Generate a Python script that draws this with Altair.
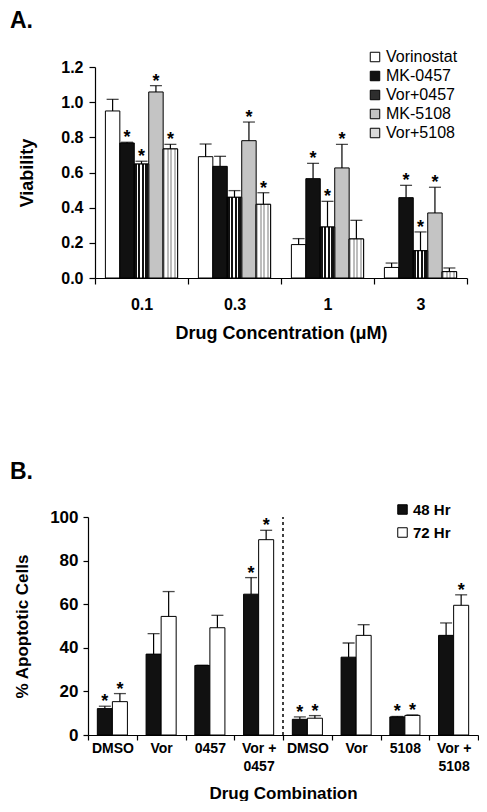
import altair as alt
import pandas as pd

FONT = "Liberation Sans"

# ---------------- Panel A data ----------------
concs = ["0.1", "0.3", "1", "3"]
series_a = ["Vorinostat", "MK-0457", "Vor+0457", "MK-5108", "Vor+5108"]

vorinostat = [0.95, 0.69, 0.19, 0.06]
vorinostat_err = [1.016, 0.762, 0.224, 0.085]
mk0457 = [0.768, 0.635, 0.565, 0.457]
mk0457_err = [0.772, 0.692, 0.652, 0.527]
vor0457 = [0.648, 0.459, 0.29, 0.155]
vor0457_err = [0.664, 0.497, 0.436, 0.262]
mk5108 = [1.058, 0.781, 0.626, 0.37]
mk5108_err = [1.094, 0.887, 0.76, 0.516]
vor5108 = [0.734, 0.419, 0.222, 0.036]
vor5108_err = [0.76, 0.485, 0.328, 0.057]

star_vorinostat = [0, 0, 0, 0]
star_mk0457 = [1, 0, 1, 1]
star_vor0457 = [1, 0, 1, 1]
star_mk5108 = [1, 1, 1, 1]
star_vor5108 = [1, 1, 0, 0]

# ---------------- Panel B data ----------------
combos = ["DMSO", "Vor", "0457", "Vor +|0457", "DMSO ", "Vor ", "5108", "Vor +|5108"]
times = ["48 Hr", "72 Hr"]
hr48 = [12.1, 37.1, 31.9, 64.6, 7.2, 35.7, 8.3, 45.7]
hr48_err = [13.2, 46.5, 32.0, 72.2, 8.3, 42.2, 8.5, 51.4]
hr72 = [15.3, 54.4, 49.2, 89.6, 7.7, 45.7, 9.0, 59.5]
hr72_err = [19.0, 65.8, 54.9, 93.9, 8.9, 50.6, 9.2, 64.3]
star48 = [1, 0, 0, 1, 1, 0, 1, 0]
star72 = [1, 0, 0, 1, 1, 0, 1, 1]

# ---------------- tables ----------------
rows_a = []
for name, vals, errs, stars in [
    ("Vorinostat", vorinostat, vorinostat_err, star_vorinostat),
    ("MK-0457", mk0457, mk0457_err, star_mk0457),
    ("Vor+0457", vor0457, vor0457_err, star_vor0457),
    ("MK-5108", mk5108, mk5108_err, star_mk5108),
    ("Vor+5108", vor5108, vor5108_err, star_vor5108),
]:
    for c, v, e, s in zip(concs, vals, errs, stars):
        rows_a.append({"conc": c, "series": name, "value": v, "err": e, "star": s})
df_a = pd.DataFrame(rows_a)

rows_b = []
for t, vals, errs, stars in [("48 Hr", hr48, hr48_err, star48), ("72 Hr", hr72, hr72_err, star72)]:
    for c, v, e, s in zip(combos, vals, errs, stars):
        rows_b.append({"combo": c, "time": t, "value": v, "err": e, "star": s})
df_b = pd.DataFrame(rows_b)
df_div = pd.DataFrame({"combo": ["DMSO "]})


def hatch(base, stripe, n, frac):
    stops = []
    for i in range(n):
        a = i / n
        b = (i + frac) / n
        c = (i + 1) / n
        stops += [
            {"offset": a, "color": base},
            {"offset": b, "color": base},
            {"offset": b, "color": stripe},
            {"offset": c, "color": stripe},
        ]
    return {"gradient": "linear", "x1": 0, "y1": 0, "x2": 1, "y2": 0, "stops": stops}


hatch_dark = hatch("#111111", "#ffffff", 4, 0.68)
hatch_light = hatch("#bdbdbd", "#ffffff", 4, 0.55)

# ---------------- Panel A ----------------
xA = alt.X(
    "conc:N",
    sort=concs,
    scale=alt.Scale(domain=concs, range=[7, 379], paddingInner=0, paddingOuter=0),
    axis=alt.Axis(
        title="Drug Concentration (μM)", labelAngle=0, tickBand="extent",
        tickSize=6, labelPadding=12, labelFontSize=16, titleFontSize=18, titlePadding=12,
    ),
)
xoffA = alt.XOffset("series:N", sort=series_a,
                    scale=alt.Scale(domain=series_a, paddingInner=0, paddingOuter=0.72))


def yA(field):
    return alt.Y(
        field,
        scale=alt.Scale(domain=[0, 1.2], nice=False),
        axis=alt.Axis(
            title="Viability", values=[0, 0.2, 0.4, 0.6, 0.8, 1.0, 1.2], format=".1f",
            offset=-7, tickSize=6, labelPadding=6, labelFontSize=16, titleFontSize=18,
            titlePadding=24, grid=False,
        ),
    )


bars_a = alt.Chart(df_a).mark_bar(stroke="black", strokeWidth=1).encode(
    x=xA, xOffset=xoffA, y=yA("value:Q"),
    fill=alt.Fill(
        "series:N", sort=series_a,
        scale=alt.Scale(domain=series_a, range=["#ffffff", "#111111", "#2e2e2e", "#c4c4c4", "#d9d9d9"]),
        legend=alt.Legend(
            title=None, orient="none", legendX=279, legendY=-18, symbolType="square",
            symbolSize=90, symbolStrokeColor="black", symbolStrokeWidth=1,
            labelFontSize=16, labelFont=FONT, labelFontWeight="normal", rowPadding=3,
            labelOffset=3,
        ),
    ),
)
hatch_a1 = alt.Chart(df_a).transform_filter("datum.series == 'Vor+0457'").mark_bar(
    stroke="black", strokeWidth=1).encode(x=xA, xOffset=xoffA, y=yA("value:Q"), fill=alt.value(hatch_dark))
hatch_a2 = alt.Chart(df_a).transform_filter("datum.series == 'Vor+5108'").mark_bar(
    stroke="black", strokeWidth=1).encode(x=xA, xOffset=xoffA, y=yA("value:Q"), fill=alt.value(hatch_light))
whisk_a = alt.Chart(df_a).mark_rule(color="black", strokeWidth=1.2).encode(
    x=xA, xOffset=xoffA, y=yA("value:Q"), y2="err:Q")
cap_a = alt.Chart(df_a).mark_tick(color="black", size=12, thickness=1.3).encode(
    x=xA, xOffset=xoffA, y=yA("err:Q"))
star_a = alt.Chart(df_a).transform_filter("datum.star == 1").mark_text(
    text="*", fontSize=18, fontWeight="bold", font=FONT, baseline="alphabetic", dy=1, color="black"
).encode(x=xA, xOffset=xoffA, y=yA("err:Q"))

panel_a = alt.layer(bars_a, hatch_a1, hatch_a2, whisk_a, cap_a, star_a).properties(
    width=390, height=211,
    title=alt.TitleParams("A.", anchor="start", frame="group", dx=-78, fontSize=23,
                          font=FONT, fontWeight="bold", offset=16),
)

# ---------------- Panel B ----------------
xB = alt.X(
    "combo:N",
    sort=combos,
    scale=alt.Scale(domain=combos, paddingInner=0, paddingOuter=0),
    axis=alt.Axis(
        title="Drug Combination", labelAngle=0, tickBand="extent",
        labelExpr="split(trim(datum.label), '|')", labelLineHeight=18,
        tickSize=5, labelPadding=1, labelFontSize=14, titleFontSize=17, titlePadding=12,
    ),
)
xoffB = alt.XOffset("time:N", sort=times, scale=alt.Scale(domain=times, paddingInner=0, paddingOuter=0.62))


def yB(field):
    return alt.Y(
        field,
        scale=alt.Scale(domain=[0, 100], nice=False),
        axis=alt.Axis(
            title="% Apoptotic Cells", values=[0, 20, 40, 60, 80, 100],
            tickSize=5, labelPadding=5, labelFontSize=17, titleFontSize=17,
            titlePadding=18, grid=False,
        ),
    )


bars_b = alt.Chart(df_b).mark_bar(stroke="black", strokeWidth=1).encode(
    x=xB, xOffset=xoffB, y=yB("value:Q"),
    fill=alt.Fill(
        "time:N", sort=times,
        scale=alt.Scale(domain=times, range=["#111111", "#ffffff"]),
        legend=alt.Legend(
            title=None, orient="none", legendX=307, legendY=-15, symbolType="square",
            symbolSize=90, symbolStrokeColor="black", symbolStrokeWidth=1,
            labelFontSize=15, labelFont=FONT, labelFontWeight="bold", rowPadding=7,
            labelOffset=3,
        ),
    ),
)
whisk_b = alt.Chart(df_b).mark_rule(color="black", strokeWidth=1.2).encode(
    x=xB, xOffset=xoffB, y=yB("value:Q"), y2="err:Q")
cap_b = alt.Chart(df_b).mark_tick(color="black", size=12, thickness=1.3).encode(
    x=xB, xOffset=xoffB, y=yB("err:Q"))
star_b = alt.Chart(df_b).transform_filter("datum.star == 1").mark_text(
    text="*", fontSize=18, fontWeight="bold", font=FONT, baseline="alphabetic", dy=1, color="black"
).encode(x=xB, xOffset=xoffB, y=yB("err:Q"))
divider = alt.Chart(df_div).mark_rule(color="black", strokeWidth=1.5, strokeDash=[3, 3]).encode(
    x=alt.X("combo:N", sort=combos, bandPosition=0,
            scale=alt.Scale(domain=combos, paddingInner=0, paddingOuter=0)),
    y=alt.datum(0), y2=alt.datum(100),
)

panel_b = alt.layer(bars_b, whisk_b, cap_b, star_b, divider).properties(
    width=390, height=218,
    title=alt.TitleParams("B.", anchor="start", frame="group", dx=-78, fontSize=23,
                          font=FONT, fontWeight="bold", offset=18),
)

chart = alt.vconcat(panel_a, panel_b, spacing=119).resolve_scale(
    x="independent", y="independent", xOffset="independent", fill="independent"
).resolve_legend(fill="independent").properties(
    padding={"left": 2, "top": 2, "right": 0, "bottom": 0}
).configure(font=FONT).configure_view(stroke=None).configure_axis(
    labelFont=FONT, titleFont=FONT, labelFontWeight="bold", titleFontWeight="bold",
    labelColor="black", titleColor="black", domainColor="black", tickColor="black",
    domainWidth=1.2, tickWidth=1.2,
).configure_legend(labelColor="black")

chart.save("out.html", embed_options={"renderer": "svg", "actions": False})
